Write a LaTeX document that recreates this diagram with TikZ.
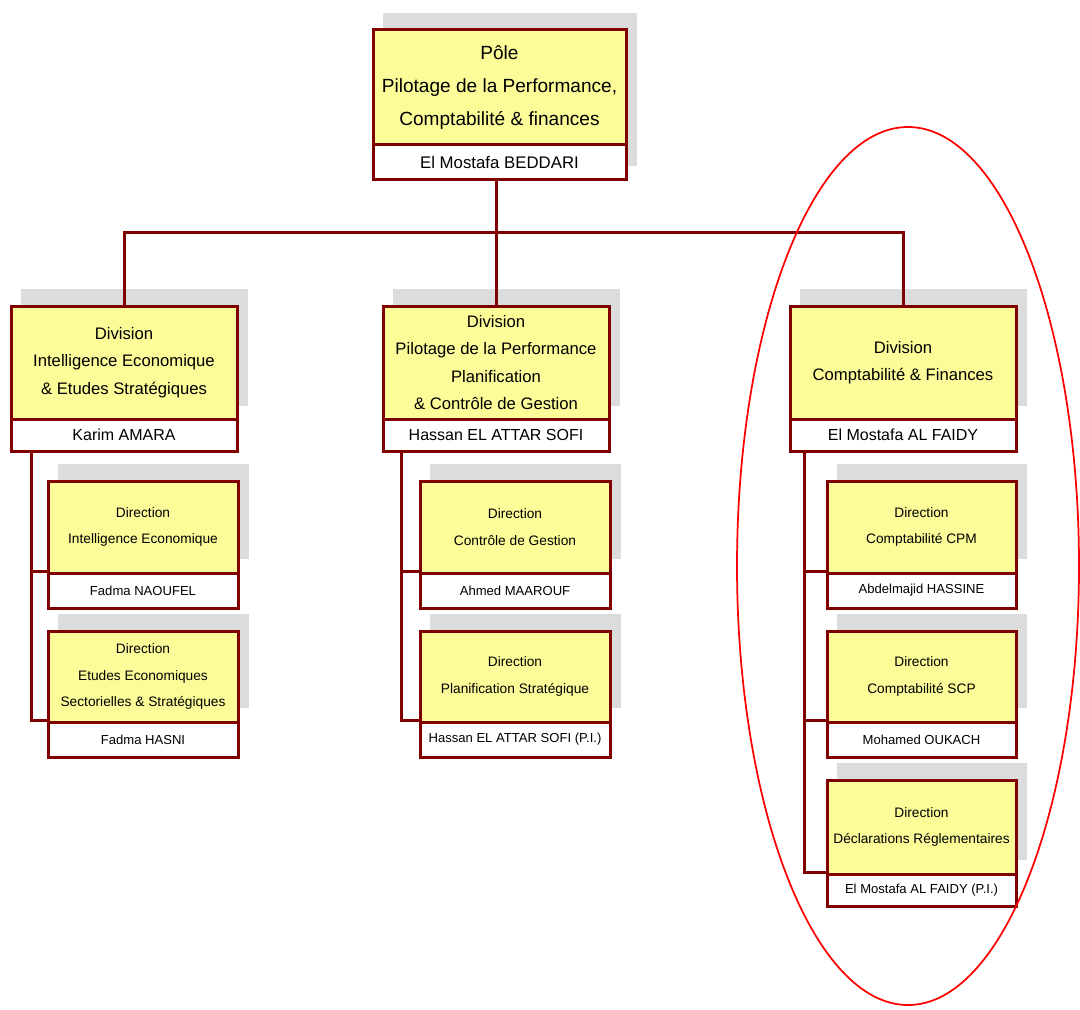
\documentclass[tikz,border=0pt]{standalone}
\usepackage{fontspec}
\setmainfont{Liberation Sans}
\usetikzlibrary{calc}
\definecolor{brd}{HTML}{800000}
\definecolor{ylw}{HTML}{FCFC99}
\definecolor{shd}{HTML}{DCDCDC}
\newcommand\orgunit[9]{%
  \fill[shd] ({#2+10},{#3-17}) rectangle ({#4+11},#7);
  \node[titlebox, minimum width={(#4-#2)*0.75pt}, minimum height={(#5-#3)*0.75pt}] (#1) at ({(#2+#4)/2},{(#3+#5)/2}) {#8};
  \node[namebox, minimum width={(#4-#2)*0.75pt}, minimum height={(#6-#5)*0.75pt}] (#1n) at ({(#2+#4)/2},{(#5+#6)/2}) {#9};
}
\begin{document}
\begin{tikzpicture}[x=0.75pt,y=-0.75pt,
  titlebox/.style={draw=brd, fill=ylw, line width=2.25pt, align=center, inner sep=0pt, tf},
  namebox/.style={draw=brd, fill=white, line width=2.25pt, align=center, inner sep=0pt, nf},
  link/.style={draw=brd, line width=2.25pt},
  tf/.style={font=\fontsize{12.5}{20.5}\selectfont},
  nf/.style={font=\fontsize{12}{14}\selectfont}]
\useasboundingbox[fill=white] (0,0) rectangle (1080,1009);

\begin{scope}[tf/.style={font=\fontsize{14.3}{24.5}\selectfont}, nf/.style={font=\fontsize{12.6}{14}\selectfont}]
\orgunit{top}{373}{30}{626}{145}{180}{166}{Pôle\\Pilotage de la Performance,\\Comptabilité \& finances}{El Mostafa BEDDARI}
\end{scope}

\orgunit{div1}{11}{306}{237}{419}{451}{406}{Division\\Intelligence Economique\\\& Etudes Stratégiques}{Karim AMARA}
\orgunit{div2}{383}{306}{609}{419}{451}{406}{Division\\Pilotage de la Performance\\Planification\\\& Contrôle de Gestion}{Hassan EL ATTAR SOFI}
\orgunit{div3}{790}{306}{1016}{419}{451}{406}{Division\\Comptabilité \& Finances}{El Mostafa AL FAIDY}

\begin{scope}[tf/.style={font=\fontsize{10.3}{20}\selectfont}, nf/.style={font=\fontsize{9.8}{12}\selectfont}]
\orgunit{d1a}{48}{481}{238}{573}{608}{559}{Direction\\Intelligence Economique}{Fadma NAOUFEL}
\orgunit{d1b}{48}{631}{238}{722}{757}{708}{Direction\\Etudes Economiques\\Sectorielles \& Stratégiques}{Fadma HASNI}
\orgunit{d2a}{420}{481}{610}{573}{608}{559}{Direction\\Contrôle de Gestion}{Ahmed MAAROUF}
\orgunit{d2b}{420}{631}{610}{722}{757}{708}{Direction\\Planification Stratégique}{Hassan EL ATTAR SOFI (P.I.)}
\orgunit{d3a}{827}{481}{1016}{573}{608}{559}{Direction\\Comptabilité CPM}{Abdelmajid HASSINE}
\orgunit{d3b}{827}{631}{1016}{722}{757}{708}{Direction\\Comptabilité SCP}{Mohamed OUKACH}
\orgunit{d3c}{827}{780}{1016}{874}{906}{860}{Direction\\Déclarations Réglementaires}{El Mostafa AL FAIDY (P.I.)}
\end{scope}

% connectors top -> divisions
\coordinate (bus) at (497,232);
\draw[link] (div2.north) -- (div2.north |- topn.south);
\draw[link] (div1.north) -- (div1.north |- bus) -- (div3.north |- bus) -- (div3.north);

% connectors divisions -> directions
\path (div1n.south west) ++(22,0) coordinate (c1);
\path (div2n.south west) ++(20,0) coordinate (c2);
\path (div3n.south west) ++(16,0) coordinate (c3);
\draw[link] (c1) |- (d1bn.north west);
\draw[link] (c1 |- d1an.north west) -- (d1an.north west);
\draw[link] (c2) |- (d2bn.north west);
\draw[link] (c2 |- d2an.north west) -- (d2an.north west);
\draw[link] (c3) |- (d3cn.north west);
\draw[link] (c3 |- d3an.north west) -- (d3an.north west);
\draw[link] (c3 |- d3bn.north west) -- (d3bn.north west);

% red ellipse
\draw[red, line width=1.3pt] (908,566) ellipse [x radius=128.25pt, y radius=329.25pt];
\end{tikzpicture}
\end{document}
